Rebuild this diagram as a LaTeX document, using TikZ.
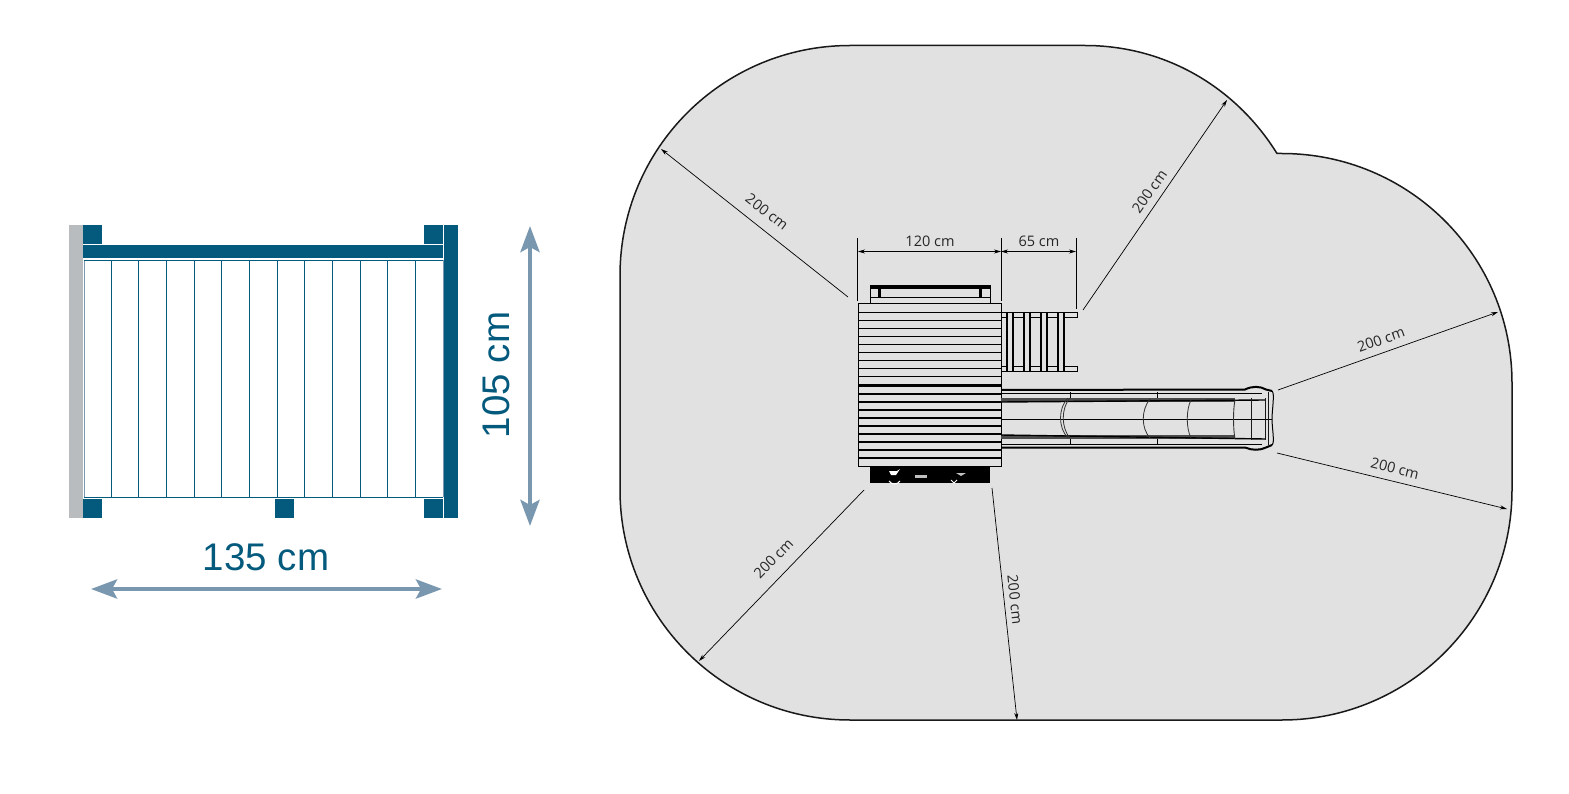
\documentclass[tikz,border=0pt]{standalone}
\usepackage{fontspec}
\usepackage{xcolor}
\usetikzlibrary{arrows.meta}
\newfontfamily\dimfont{Open Sans}
\newfontfamily\bigfont{Liberation Sans}
\definecolor{petrol}{HTML}{045A7D}
\definecolor{steel}{HTML}{7A97B0}
\definecolor{wall}{HTML}{B9BCBF}
\definecolor{zone}{HTML}{E1E1E1}

\begin{document}
\begin{tikzpicture}[x=1pt,y=-1pt]
\tikzset{post/.style={fill=petrol,draw=none}}
\tikzset{bigdim/.style={draw=steel,line width=4.4pt,{Stealth[length=26pt,width=19pt,inset=5pt,fill=steel]}-{Stealth[length=26pt,width=19pt,inset=5pt,fill=steel]}}}
\tikzset{biglabel/.style={text=petrol,inner sep=0pt,font=\bigfont\fontsize{38.5}{40}\selectfont}}
\tikzset{smalldim/.style={draw=black,line width=.7pt,{Stealth[length=7pt,width=4pt]}-{Stealth[length=7pt,width=4pt]}}}
\tikzset{smalllabel/.style={text=black!85,inner sep=0pt,font=\dimfont\fontsize{14.5}{16}\selectfont}}
\tikzset{tick/.style={draw=black,line width=.9pt}}
\tikzset{timber/.style={draw=black,line width=1pt}}
\useasboundingbox (0,0) rectangle (1569,794);

% footprint of the frame
\fill[wall] (69,225) rectangle (83,518);
\foreach \x/\y in {83/225,424/225,83/499,275/499,424/499}
  \fill[post] (\x,\y) rectangle +(19,19);
\fill[post] (444,225) rectangle (458,518);
\fill[post] (83,245) rectangle (443,258);
\draw[steel,line width=.9pt] (84,260) -- (84,497) (443,260) -- (443,497);
\draw[petrol,line width=.9pt] (84,260) -- (443,260) (84,497) -- (443,497);
\foreach \i in {1,...,12}
  \draw[petrol,line width=.8pt] (83.5+27.67*\i,260) -- (83.5+27.67*\i,497);

\coordinate (wleft) at (91,589);
\coordinate (wright) at (442,589);
\coordinate (htop) at (530,226);
\coordinate (hbot) at (530,526);
\draw[bigdim] (wleft) -- (wright);
\draw[bigdim] (htop) -- (hbot);
\node[biglabel] (width) at (266,557.5) {135 cm};
\node[biglabel,rotate=90] (height) at (496,375) {105 cm};

% safety zone
\draw[fill=zone,draw=black!90,line width=1.5pt] (620,275.5) .. controls (620,148) and (723,45.5) .. (850,45.5)
  -- (1085,45.5) .. controls (1164,45.5) and (1235,86) .. (1277,153.5)
  -- (1282,153.5) .. controls (1409,153.5) and (1512,256) .. (1512,383)
  -- (1512,490) .. controls (1512,617) and (1409,720) .. (1282,720)
  -- (850,720) .. controls (723,720) and (620,617) .. (620,490) -- cycle;

% bench
\draw[timber] (870,286) rectangle (990,304);
\fill (870,286) rectangle (990,289);
\draw[timber] (870,298) -- (990,298);
\fill (878,286) rectangle (881,298);
\fill (979,286) rectangle (982,298);

% deck
\draw[timber,fill=zone] (858,304) rectangle (1001,466);
\foreach \y in {312.3,320.3,...,376.3}
  \draw[timber] (858,\y) -- (1001,\y);
\draw[draw=black,line width=2.4pt] (858,385.5) -- (1001,385.5);
\foreach \y in {394,401.8,409.8,417.8,425.8,433.8,441.8,449.8,457.8}
  \draw[draw=black,line width=1.6pt] (858,\y) -- (1001,\y);

% ladder
\draw[timber] (1001,312.7) -- (1077,312.7) -- (1077,317.3) -- (1001,317.3);
\draw[timber] (1001,366.3) -- (1077,366.3) -- (1077,371.5) -- (1001,371.5);
\foreach \x in {1006.7,1023.5,1040.7,1057.5}{
  \draw[timber,fill=zone] (\x,312.7) rectangle +(7,58.8);
  \fill (\x,312.7) rectangle +(1.7,58.8);
  \fill (\x+5.3,312.7) rectangle +(1.7,58.8);
}

% swing side
\fill (870,466) rectangle (990,483);
\fill[white] (889,471) -- (897,471) -- (900,469) -- (896,475) -- (891,475) -- cycle;
\draw[white,line width=1pt] (889,481) .. controls (892,485) and (897,485) .. (900,481);
\fill[black!25] (915,475) rectangle (927,478);
\fill[black!25] (956,473) -- (966,473) -- (961,476) -- cycle;
\draw[white,line width=.8pt] (951,480) -- (954,483) -- (957,480);

% slide
\fill[black!70] (1001,398) rectangle (1235,402);
\fill[black!70] (1001,435) rectangle (1235,439);
\draw[draw=black,line width=2pt] (1001,390) -- (1245,389.5) .. controls (1252,386) and (1260,386) .. (1266,389.5) -- (1272,391);
\draw[draw=black,line width=2pt] (1001,447.5) -- (1245,447.5) .. controls (1252,450.5) and (1260,450.5) .. (1266,447.5) -- (1272,445);
\draw[draw=black,line width=.8pt] (1001,393) -- (1262,393) (1001,444) -- (1262,444);
\draw[draw=black,line width=1.4pt] (1001,402) -- (1265,400) (1001,435) -- (1265,439);
\draw[draw=black,line width=.8pt] (1001,419) -- (1272,419);
\foreach \x in {1070,1157}
  \draw[draw=black,line width=.8pt] (\x,392) -- (\x,398) (\x,439) -- (\x,445);
\draw[draw=black!80,line width=.8pt] (1068,398) .. controls (1058,408) and (1058,428) .. (1068,438);
\draw[draw=black!80,line width=.8pt] (1070,398) .. controls (1061,408) and (1061,428) .. (1070,438);
\draw[draw=black!80,line width=.8pt] (1150,399) .. controls (1141,410) and (1141,428) .. (1150,438);
\draw[draw=black!80,line width=.8pt] (1191,400) .. controls (1186,410) and (1186,428) .. (1191,438);
\draw[draw=black!80,line width=.9pt] (1235,400) .. controls (1233,410) and (1233,428) .. (1235,439);
\draw[draw=black!90,line width=.8pt] (1251,398) -- (1251,440) (1265,398) -- (1265,440) (1268,392) -- (1268,445);
\draw[draw=black,line width=1pt] (1272,391) .. controls (1275,393) and (1272,410) .. (1272,419) .. controls (1272,428) and (1275,443) .. (1272,445);

% dimensions
\coordinate (deckleft) at (857.5,238);
\coordinate (deckleftb) at (857.5,301);
\coordinate (deckright) at (1001,238);
\coordinate (deckrightb) at (1001,301);
\coordinate (ladder) at (1076,238);
\coordinate (ladderb) at (1076,309);
\draw[tick] (deckleft) -- (deckleftb);
\draw[tick] (deckright) -- (deckrightb);
\draw[tick] (ladder) -- (ladderb);
\coordinate (a) at (858,251.5);
\coordinate (b) at (1001,251.5);
\coordinate (c) at (1076,251.5);
\draw[smalldim] (a) -- (b);
\draw[smalldim] (b) -- (c);
\node[smalllabel] (l120) at (930,241) {120 cm};
\node[smalllabel] (l65) at (1039,241) {65 cm};

\foreach \name/\sx/\sy/\ex/\ey in {nw/848/297/661/149,ne/1083/310/1227/100,e/1278/390/1498/312,se/1277/453/1507/509,s/992/488/1017/720,sw/864/490/699/661}{
  \coordinate (\name a) at (\sx,\sy);
  \coordinate (\name b) at (\ex,\ey);
  \draw[draw=black,line width=.7pt,-{Stealth[length=7pt,width=4pt]}] (\name a) -- (\name b);
}
\node[smalllabel,rotate=-38] (lnw) at (767,212) {200 cm};
\node[smalllabel,rotate=55] (lne) at (1149.5,191.5) {200 cm};
\node[smalllabel,rotate=19.5] (le) at (1381,339.5) {200 cm};
\node[smalllabel,rotate=-13.7] (lse) at (1395,468.5) {200 cm};
\node[smalllabel,rotate=-84] (ls) at (1015,599.5) {200 cm};
\node[smalllabel,rotate=46] (lsw) at (773.5,558.5) {200 cm};
\end{tikzpicture}
\end{document}
